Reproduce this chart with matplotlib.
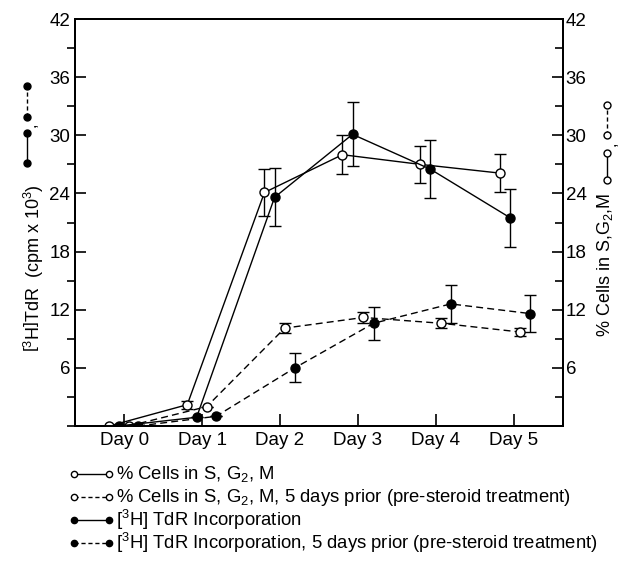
import numpy as np
import matplotlib.pyplot as plt
from matplotlib.lines import Line2D
from matplotlib.ticker import MultipleLocator

plt.rcParams['font.family'] = ['Liberation Sans', 'DejaVu Sans']
plt.rcParams['mathtext.fontset'] = 'custom'
plt.rcParams['mathtext.rm'] = 'Liberation Sans'

day_labels = ['Day 0', 'Day 1', 'Day 2', 'Day 3', 'Day 4', 'Day 5']

# % cells in S,G2,M (open, solid)
cells_x = [-0.19, 0.81, 1.80, 2.80, 3.80, 4.82]
cells_y = [0.0, 2.2, 24.1, 28.0, 27.0, 26.1]
cells_e = [0.0, 0.4, 2.4, 2.0, 1.9, 2.0]

# % cells, 5 days prior (open, dashed)
cells_pre_x = [0.06, 1.06, 2.06, 3.07, 4.07, 5.08]
cells_pre_y = [0.0, 2.0, 10.1, 11.2, 10.6, 9.7]
cells_pre_e = [0.0, 0.0, 0.5, 0.55, 0.5, 0.4]

# [3H]TdR incorporation (filled, solid)
tdr_x = [-0.07, 0.93, 1.93, 2.93, 3.93, 4.95]
tdr_y = [0.0, 0.9, 23.6, 30.1, 26.5, 21.5]
tdr_e = [0.0, 0.0, 3.0, 3.3, 3.0, 3.0]

# [3H]TdR incorporation, 5 days prior (filled, dashed)
tdr_pre_x = [0.18, 1.18, 2.19, 3.20, 4.19, 5.21]
tdr_pre_y = [0.0, 1.0, 6.0, 10.6, 12.6, 11.6]
tdr_pre_e = [0.0, 0.0, 1.5, 1.7, 2.0, 1.95]

legend_labels = [
    r'% Cells in S, G$_2$, M',
    r'% Cells in S, G$_2$, M, 5 days prior (pre-steroid treatment)',
    r'[$^3$H] TdR Incorporation',
    r'[$^3$H] TdR Incorporation, 5 days prior (pre-steroid treatment)',
]

dash = (0, (5, 3))

fig = plt.figure(figsize=(6.21, 5.77), dpi=100)
ax = fig.add_axes([0.1208, 0.2617, 0.7858, 0.7053])

def series(x, y, e, ls, face):
    ax.errorbar(x, y, yerr=e, color='black', ls=ls, lw=1.0, marker='o',
                ms=6.5, mfc=face, mec='black', mew=1.0, elinewidth=1.0,
                capsize=4, capthick=1.0, zorder=3)

series(cells_x, cells_y, cells_e, '-', 'white')
series(cells_pre_x, cells_pre_y, cells_pre_e, dash, 'white')
series(tdr_x, tdr_y, tdr_e, '-', 'black')
series(tdr_pre_x, tdr_pre_y, tdr_pre_e, dash, 'black')

ax.set_xlim(-0.63, 5.63)
ax.set_ylim(0, 42)
ax.set_xticks(range(len(day_labels)))
ax.set_xticklabels(day_labels)
ax.yaxis.set_major_locator(MultipleLocator(6))
ax.yaxis.set_minor_locator(MultipleLocator(3))
ax.set_yticks([6, 12, 18, 24, 30, 36, 42])
ax.tick_params(axis='both', direction='in', labelsize=13.5, width=1.2)
ax.tick_params(axis='y', which='major', length=8)
ax.tick_params(axis='y', which='minor', length=6, width=1.2)
ax.tick_params(axis='x', length=9, pad=4)
for s in ax.spines.values():
    s.set_linewidth(1.4)

ax2 = ax.twinx()
ax2.set_ylim(0, 42)
ax2.yaxis.set_major_locator(MultipleLocator(6))
ax2.yaxis.set_minor_locator(MultipleLocator(3))
ax2.set_yticks([6, 12, 18, 24, 30, 36, 42])
ax2.tick_params(axis='y', direction='in', labelsize=13.5, width=1.2, length=8, pad=2)
ax2.tick_params(axis='y', which='minor', direction='in', length=6, width=1.2)
for s in ax2.spines.values():
    s.set_linewidth(1.4)

# pixel helpers
W, H = 621, 577
def fx(px):
    return px / W
def fy(py):
    return 1 - py / H

# axis labels
fig.text(fx(34), fy(352), r'$\left[^3\mathrm{H}\right]$TdR  (cpm x 10$^3$)',
         rotation=90, ha='center', va='bottom', fontsize=13)
fig.text(fx(605), fy(337), r'% Cells in S,G$_2$,M',
         rotation=90, ha='center', va='bottom', fontsize=13)

# little symbol keys next to the axis labels
def key(x, ys, face):
    fig.add_artist(Line2D([fx(x), fx(x)], [fy(ys[0]), fy(ys[1])], color='black',
                          lw=1.0, marker='o', ms=5, mfc=face, mec='black',
                          transform=fig.transFigure))
    fig.add_artist(Line2D([fx(x), fx(x)], [fy(ys[2]), fy(ys[3])], color='black',
                          lw=1.0, ls=(0, (3, 2)), marker='o', ms=5, mfc=face,
                          mec='black', transform=fig.transFigure))
    fig.text(fx(x + 4), fy((ys[1] + ys[2]) / 2), ',', rotation=90,
             ha='center', va='center', fontsize=12)

key(27, [163, 133, 117, 86], 'black')
key(607, [180, 153, 135, 105], 'white')

# legend below the plot, drawn row by row
legend_styles = [('-', 'white'), ((0, (3, 2)), 'white'),
                 ('-', 'black'), ((0, (3, 2)), 'black')]
row_y = [474, 497, 520, 543]
for (ls, face), lab, ry in zip(legend_styles, legend_labels, row_y):
    fig.add_artist(Line2D([fx(74), fx(109)], [fy(ry), fy(ry)], color='black',
                          lw=1.0, ls=ls, marker='o', ms=4.5, mfc=face,
                          mec='black', transform=fig.transFigure))
    fig.text(fx(116), fy(ry), lab, ha='left', va='center', fontsize=13.3)

fig.savefig('out.png', dpi=100)
